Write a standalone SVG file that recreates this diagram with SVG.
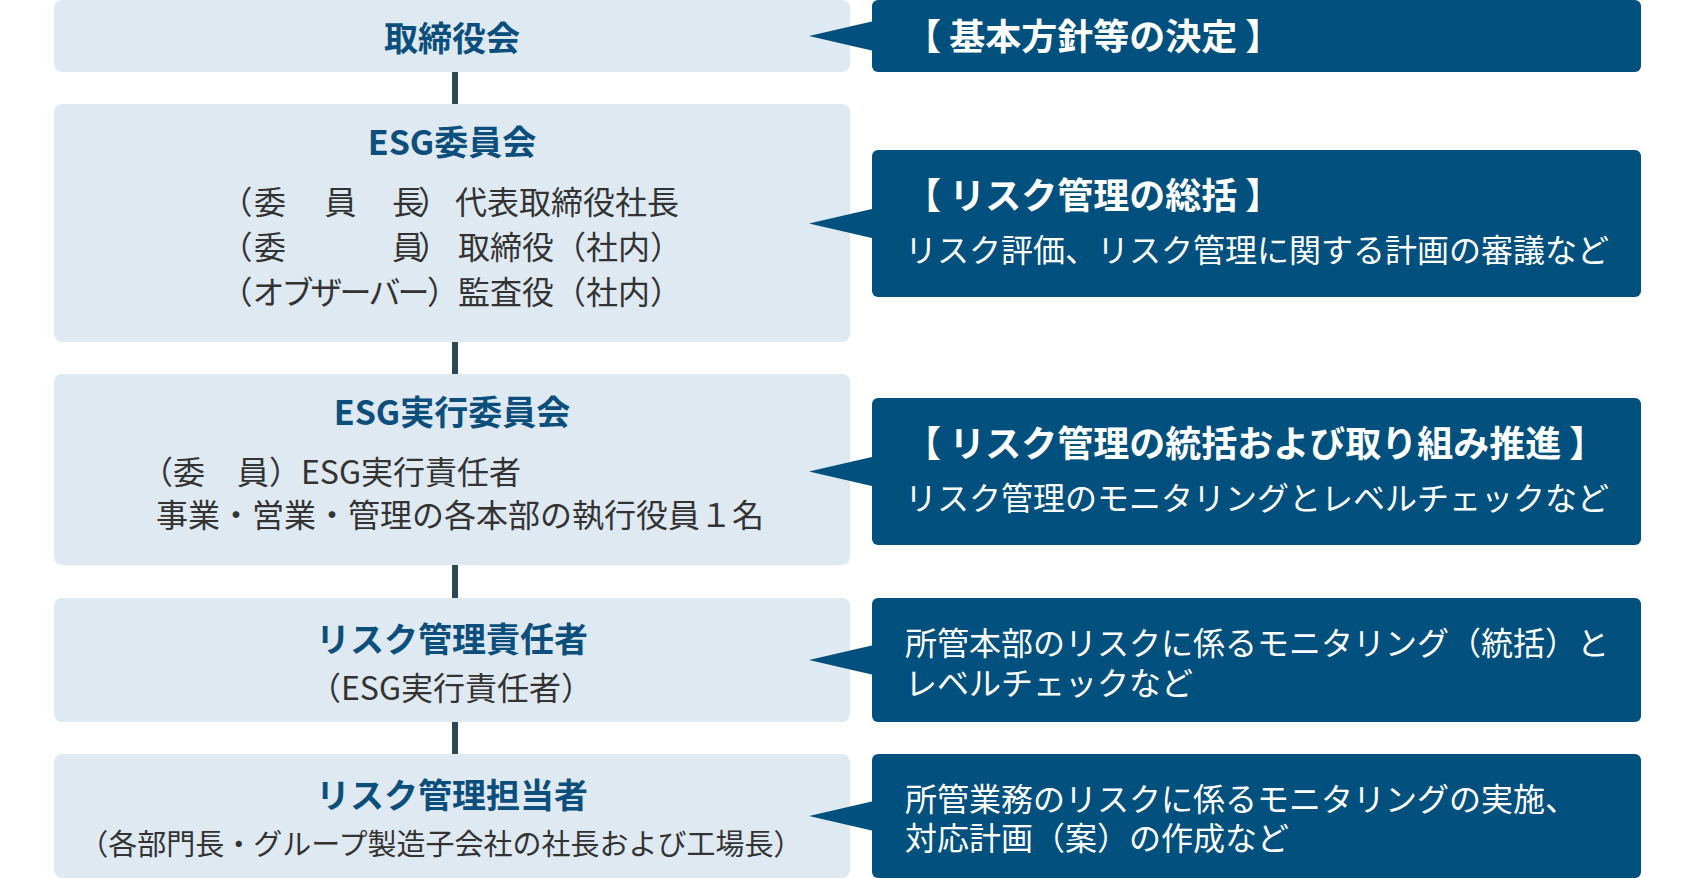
<svg xmlns="http://www.w3.org/2000/svg" width="1696" height="878" viewBox="0 0 1696 878">
<style>
.lbox{fill:#dfe9f2}
.rbox{fill:#01507e}
.conn{stroke:#2f4858;stroke-width:6;fill:none}
text{font-family:"Noto Sans CJK JP","Noto Sans",sans-serif}
.lt{font-size:34px;font-weight:700;fill:#0d4f7c;text-anchor:middle}
.lb{font-size:32px;fill:#333333}
.rt{font-size:36px;font-weight:700;fill:#ffffff}
.rb{font-size:32px;fill:#ffffff}
</style>
<rect width="1696" height="878" fill="#ffffff"/>
<g id="connectors">
<line class="conn" x1="455" y1="70" x2="455" y2="106"/>
<line class="conn" x1="455" y1="340" x2="455" y2="376"/>
<line class="conn" x1="455" y1="563" x2="455" y2="600"/>
<line class="conn" x1="455" y1="720" x2="455" y2="756"/>
</g>
<g id="node-board">
<rect class="lbox" x="54" y="0" width="796" height="72" rx="8"/>
<text class="lt" x="452" y="51">取締役会</text>
</g>
<g id="node-esg">
<rect class="lbox" x="54" y="104" width="796" height="238" rx="8"/>
<text class="lt" x="452" y="155">ESG委員会</text>
<text class="lb" x="220.5 254 289 324.5 358 392 418 455" y="214">（委　員　長）代表取締役社長</text>
<text class="lb" x="220.5 254 289 324 358 392 418 458" y="259">（委　　　員）取締役（社内）</text>
<text class="lb" x="220.5 252.5 281.5 310.5 339.5 368.5 397.5 427 458" y="304">（オブザーバー）監査役（社内）</text>
</g>
<g id="node-esg-exec">
<rect class="lbox" x="54" y="374" width="796" height="191" rx="8"/>
<text class="lt" x="452" y="425">ESG実行委員会</text>
<text class="lb" x="141" y="484">（委　員）ESG実行責任者</text>
<text class="lb" x="156" y="527">事業・営業・管理の各本部の執行役員１名</text>
</g>
<g id="node-risk-officer">
<rect class="lbox" x="54" y="598" width="796" height="124" rx="8"/>
<text class="lt" x="452" y="652">リスク管理責任者</text>
<text class="lb" x="451" y="700" text-anchor="middle">（ESG実行責任者）</text>
</g>
<g id="node-risk-staff">
<rect class="lbox" x="54" y="754" width="796" height="124" rx="8"/>
<text class="lt" x="452" y="808">リスク管理担当者</text>
<text class="lb" x="441" y="855" text-anchor="middle" style="font-size:29px">（各部門長・グループ製造子会社の社長および工場長）</text>
</g>
<g id="note-board">
<rect class="rbox" x="872" y="0" width="769" height="72" rx="6"/>
<polygon class="rbox" points="809,36 874,21 874,51"/>
<text class="rt" x="905" y="50">【 基本方針等の決定 】</text>
</g>
<g id="note-esg">
<rect class="rbox" x="872" y="150" width="769" height="147" rx="6"/>
<polygon class="rbox" points="809,223.5 874,208.5 874,238.5"/>
<text class="rt" x="905" y="209">【 リスク管理の総括 】</text>
<text class="rb" x="905" y="262">リスク評価、リスク管理に関する計画の審議など</text>
</g>
<g id="note-esg-exec">
<rect class="rbox" x="872" y="398" width="769" height="147" rx="6"/>
<polygon class="rbox" points="809,471.5 874,456.5 874,486.5"/>
<text class="rt" x="905" y="457">【 リスク管理の統括および取り組み推進 】</text>
<text class="rb" x="905" y="510">リスク管理のモニタリングとレベルチェックなど</text>
</g>
<g id="note-risk-officer">
<rect class="rbox" x="872" y="598" width="769" height="124" rx="6"/>
<polygon class="rbox" points="809,660 874,645 874,675"/>
<text class="rb" x="905" y="655">所管本部のリスクに係るモニタリング（統括）と</text>
<text class="rb" x="905" y="695">レベルチェックなど</text>
</g>
<g id="note-risk-staff">
<rect class="rbox" x="872" y="754" width="769" height="124" rx="6"/>
<polygon class="rbox" points="809,816 874,801 874,831"/>
<text class="rb" x="905" y="811">所管業務のリスクに係るモニタリングの実施、</text>
<text class="rb" x="905" y="850">対応計画（案）の作成など</text>
</g>
</svg>
